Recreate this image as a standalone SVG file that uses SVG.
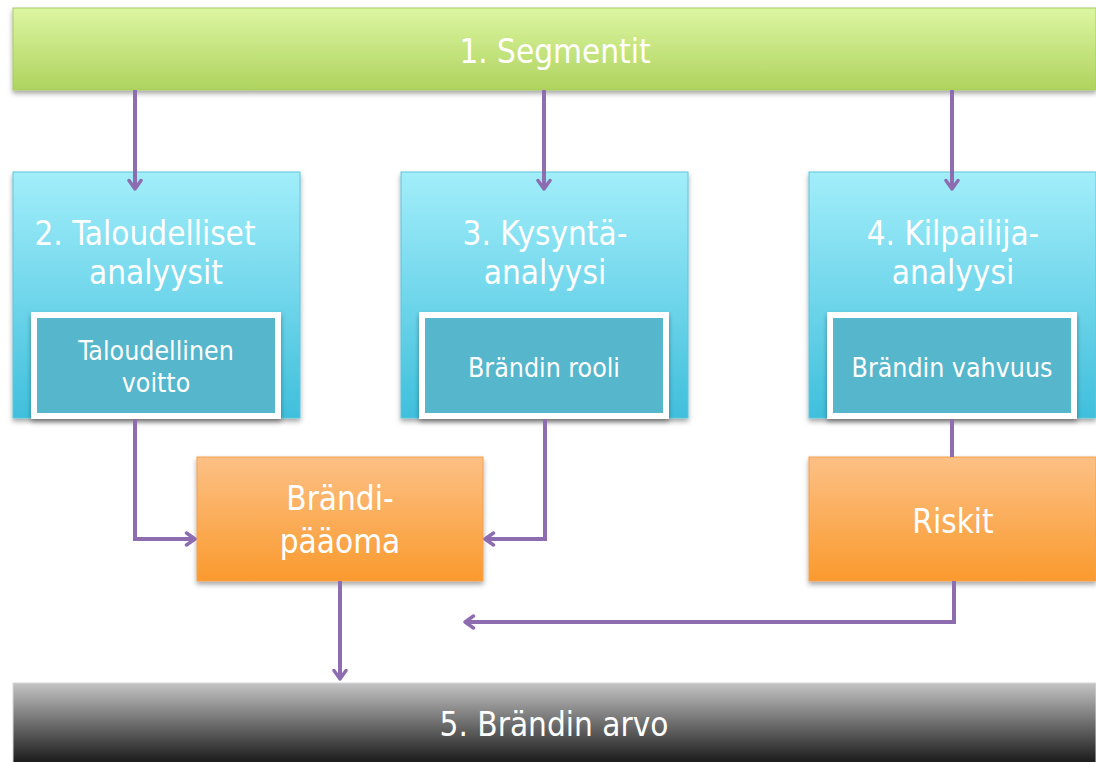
<svg xmlns="http://www.w3.org/2000/svg" width="1096" height="762" viewBox="0 0 1096 762">
  <defs>
    <linearGradient id="gGreen" x1="0" y1="0" x2="0" y2="1">
      <stop offset="0" stop-color="#dcf6a2"/>
      <stop offset="1" stop-color="#afd35e"/>
    </linearGradient>
    <linearGradient id="gBlue" x1="0" y1="0" x2="0" y2="1">
      <stop offset="0" stop-color="#a2eefa"/>
      <stop offset="1" stop-color="#40bfdc"/>
    </linearGradient>
    <linearGradient id="gOrange" x1="0" y1="0" x2="0" y2="1">
      <stop offset="0" stop-color="#fcc085"/>
      <stop offset="1" stop-color="#fa9a2e"/>
    </linearGradient>
    <linearGradient id="gBlack" x1="0" y1="0" x2="0" y2="1">
      <stop offset="0" stop-color="#c4c4c4"/>
      <stop offset="0.55" stop-color="#5a5a5a"/>
      <stop offset="1" stop-color="#050505"/>
    </linearGradient>
    <filter id="shadow" x="-5%" y="-5%" width="110%" height="120%">
      <feDropShadow dx="0" dy="3" stdDeviation="2.5" flood-color="#000" flood-opacity="0.35"/>
    </filter>
    <marker id="arrow" viewBox="0 0 16 16" refX="12" refY="8" markerWidth="16" markerHeight="16" markerUnits="userSpaceOnUse" orient="auto">
      <path d="M3.5,2 L12,8 L3.5,14" fill="none" stroke="#8d6cb0" stroke-width="3.4" stroke-linecap="round" stroke-linejoin="round"/>
    </marker>
  </defs>
  <style>
    .lbl { font-family: "DejaVu Sans Condensed", "DejaVu Sans", sans-serif; font-stretch: condensed; fill: #ffffff; text-anchor: middle; }
    .big { font-size: 33px; }
    .mid { font-size: 26.5px; }
    .inner { fill: #55b6cc; stroke: #ffffff; stroke-width: 6; }
    .conn { fill: none; stroke: #8d6cb0; stroke-width: 4; stroke-linejoin: miter; }
  </style>

  <rect width="1096" height="762" fill="#ffffff"/>

  <!-- top bar -->
  <g id="segmentit">
    <rect x="13" y="8" width="1083" height="82" fill="url(#gGreen)" stroke="#a8cc64" stroke-width="1" filter="url(#shadow)"/>
    <text class="lbl big" x="555" y="63">1. Segmentit</text>
  </g>

  <!-- analysis columns -->
  <g id="taloudelliset">
    <rect x="13" y="172" width="287" height="246" fill="url(#gBlue)" stroke="#5cc6dc" stroke-width="1" filter="url(#shadow)"/>
    <text class="lbl big" x="145" y="245">2. Taloudelliset</text>
    <text class="lbl big" x="156" y="284">analyysit</text>
  </g>
  <g id="taloudellinen-voitto">
    <rect class="inner" x="34" y="315" width="244" height="101" filter="url(#shadow)"/>
    <text class="lbl mid" x="156" y="360">Taloudellinen</text>
    <text class="lbl mid" x="156" y="392">voitto</text>
  </g>

  <g id="kysynta">
    <rect x="401" y="172" width="287" height="246" fill="url(#gBlue)" stroke="#5cc6dc" stroke-width="1" filter="url(#shadow)"/>
    <text class="lbl big" x="545" y="245">3. Kysyntä-</text>
    <text class="lbl big" x="545" y="284">analyysi</text>
  </g>
  <g id="brandin-rooli">
    <rect class="inner" x="422" y="315" width="244" height="101" filter="url(#shadow)"/>
    <text class="lbl mid" x="544" y="377">Brändin rooli</text>
  </g>

  <g id="kilpailija">
    <rect x="809" y="172" width="287" height="246" fill="url(#gBlue)" stroke="#5cc6dc" stroke-width="1" filter="url(#shadow)"/>
    <text class="lbl big" x="953" y="245">4. Kilpailija-</text>
    <text class="lbl big" x="953" y="284">analyysi</text>
  </g>
  <g id="brandin-vahvuus">
    <rect class="inner" x="830" y="315" width="244" height="101" filter="url(#shadow)"/>
    <text class="lbl mid" x="952" y="377">Brändin vahvuus</text>
  </g>

  <!-- result boxes -->
  <g id="brandipaaoma">
    <rect x="197" y="457" width="286" height="124" fill="url(#gOrange)" stroke="#f4a050" stroke-width="1" filter="url(#shadow)"/>
    <text class="lbl big" x="340" y="510">Brändi-</text>
    <text class="lbl big" x="340" y="553">pääoma</text>
  </g>
  <g id="riskit">
    <rect x="809" y="457" width="287" height="124" fill="url(#gOrange)" stroke="#f4a050" stroke-width="1" filter="url(#shadow)"/>
    <text class="lbl big" x="953" y="533">Riskit</text>
  </g>

  <!-- bottom bar -->
  <g id="brandin-arvo">
    <rect x="13" y="683" width="1083" height="90" fill="url(#gBlack)" stroke="#d8d8d8" stroke-width="1"/>
    <text class="lbl big" x="554" y="736">5. Brändin arvo</text>
  </g>

  <!-- connectors -->
  <g id="connectors">
    <path class="conn" d="M135,90 V189" marker-end="url(#arrow)"/>
    <path class="conn" d="M544,90 V189" marker-end="url(#arrow)"/>
    <path class="conn" d="M952,90 V189" marker-end="url(#arrow)"/>
    <path class="conn" d="M135,419 V539 H195" marker-end="url(#arrow)"/>
    <path class="conn" d="M545,419 V539 H485" marker-end="url(#arrow)"/>
    <path class="conn" d="M952,419 V457"/>
    <path class="conn" d="M340,581 V679" marker-end="url(#arrow)"/>
    <path class="conn" d="M954,581 V622 H465" marker-end="url(#arrow)"/>
  </g>
</svg>
